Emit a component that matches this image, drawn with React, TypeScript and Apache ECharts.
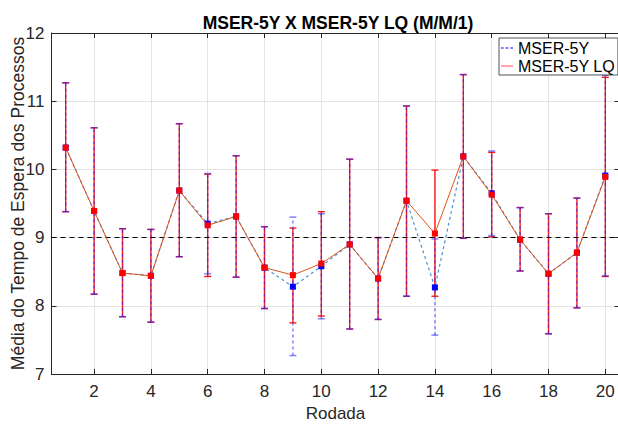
import React, { useEffect, useRef } from "react";
import * as echarts from "echarts";

const rounds = [1, 2, 3, 4, 5, 6, 7, 8, 9, 10, 11, 12, 13, 14, 15, 16, 17, 18, 19, 20];
const xTicks = [2, 4, 6, 8, 10, 12, 14, 16, 18, 20];

const mserMean = [10.32, 9.39, 8.48, 8.44, 9.69, 9.205, 9.31, 8.56, 8.28, 8.58, 8.9, 8.4, 9.54, 8.27, 10.19, 9.65, 8.97, 8.47, 8.78, 9.91];
const mserLow = [9.38, 8.17, 7.84, 7.76, 8.72, 8.47, 8.42, 7.96, 7.27, 7.81, 7.66, 7.8, 8.14, 7.57, 8.99, 9.03, 8.51, 7.59, 7.97, 8.44];
const mserHigh = [11.27, 10.61, 9.13, 9.12, 10.67, 9.94, 10.2, 9.16, 9.3, 9.35, 10.15, 9.0, 10.93, 8.98, 11.39, 10.27, 9.44, 9.35, 9.58, 11.38];

const lqMean = [10.32, 9.39, 8.48, 8.44, 9.69, 9.18, 9.31, 8.56, 8.45, 8.62, 8.9, 8.4, 9.54, 9.06, 10.19, 9.63, 8.97, 8.47, 8.78, 9.89];
const lqLow = [9.38, 8.17, 7.84, 7.76, 8.72, 8.43, 8.42, 7.96, 7.75, 7.85, 7.66, 7.8, 8.14, 8.14, 8.99, 9.01, 8.51, 7.59, 7.97, 8.43];
const lqHigh = [11.27, 10.61, 9.13, 9.12, 10.67, 9.93, 10.2, 9.16, 9.14, 9.38, 10.15, 9.0, 10.93, 9.99, 11.39, 10.25, 9.44, 9.35, 9.58, 11.35];

const referenceLevel = 9;

const FONT = '"Liberation Sans", Arial, Helvetica, sans-serif';

function makeBar(color: string, dash: number[] | null, width: number, opacity: number) {
  return (params: any, api: any) => {
    const x = api.value(0);
    const lo = api.coord([x, api.value(1)]);
    const hi = api.coord([x, api.value(2)]);
    const c = 3.5;
    const style = { stroke: color, lineWidth: width, lineDash: dash, opacity };
    const capStyle = { stroke: color, lineWidth: width, opacity };
    return {
      type: "group",
      children: [
        { type: "line", shape: { x1: lo[0], y1: lo[1], x2: hi[0], y2: hi[1] }, style },
        { type: "line", shape: { x1: lo[0] - c, y1: lo[1], x2: lo[0] + c, y2: lo[1] }, style: capStyle },
        { type: "line", shape: { x1: hi[0] - c, y1: hi[1], x2: hi[0] + c, y2: hi[1] }, style: capStyle },
      ],
    };
  };
}

export default function App() {
  const ref = useRef<HTMLDivElement>(null);
  useEffect(() => {
    if (!ref.current) return;
    const chart = echarts.init(ref.current, null, { renderer: "svg" });
    const axisText = { color: "#262626", fontSize: 17, fontFamily: FONT };
    const option: any = {
      animation: false,
      backgroundColor: "#fff",
      title: {
        text: "MSER-5Y X MSER-5Y LQ (M/M/1)",
        left: 333,
        top: 9,
        textAlign: "center",
        textStyle: { fontSize: 17.5, fontWeight: "bold", color: "#000", fontFamily: FONT },
      },
      grid: { left: 51.5, right: -1.5, top: 33, bottom: 52, containLabel: false, outerBoundsMode: "none" },
      legend: {
        left: 499,
        top: 38,
        orient: "vertical",
        z: 20,
        padding: [2, 3, 1, 2],
        itemGap: 2,
        itemWidth: 12,
        itemHeight: 2,
        backgroundColor: "#fff",
        borderColor: "#262626",
        borderWidth: 0.8,
        borderRadius: 0,
        textStyle: { fontSize: 16, color: "#000", fontFamily: FONT },
        data: [
          {
            name: "MSER-5Y",
            icon: "path://M0 0H3V1H0ZM5 0H8V1H5ZM10 0H13V1H10Z",
            itemStyle: { color: "#0000ff" },
          },
          {
            name: "MSER-5Y LQ",
            icon: "path://M0 0H13V1H0Z",
            itemStyle: { color: "#ff3b3b" },
          },
        ],
      },
      xAxis: [
        {
          type: "value",
          min: 0.5,
          max: 20.5,
          name: "Rodada",
          nameLocation: "middle",
          nameGap: 31,
          nameMoveOverlap: false,
          nameTextStyle: axisText,
          axisLine: { show: true, lineStyle: { color: "#262626", width: 1 } },
          axisTick: { show: true, inside: true, length: 5, customValues: xTicks, lineStyle: { color: "#262626" } },
          axisLabel: { customValues: xTicks, margin: 9, ...axisText },
          splitLine: { show: true, lineStyle: { color: "#e3e3e3", width: 1 } },
        },
        {
          type: "value",
          position: "top",
          min: 0.5,
          max: 20.5,
          axisLine: { show: true, lineStyle: { color: "#262626", width: 1 } },
          axisTick: { show: true, inside: true, length: 5, customValues: xTicks, lineStyle: { color: "#262626" } },
          axisLabel: { show: false },
          splitLine: { show: false },
        },
      ],
      yAxis: [
        {
          type: "value",
          min: 7,
          max: 12,
          interval: 1,
          name: "Média do Tempo de Espera dos Processos",
          nameLocation: "middle",
          nameGap: 25,
          nameMoveOverlap: false,
          nameTextStyle: { ...axisText, fontSize: 17.5 },
          axisLine: { show: true, lineStyle: { color: "#262626", width: 1 } },
          axisTick: { show: true, inside: true, length: 5, lineStyle: { color: "#262626" } },
          axisLabel: { margin: 7, ...axisText },
          splitLine: { show: true, lineStyle: { color: "#e3e3e3", width: 1 } },
        },
        {
          type: "value",
          position: "right",
          min: 7,
          max: 12,
          interval: 1,
          axisLine: { show: true, lineStyle: { color: "#262626", width: 1 } },
          axisTick: { show: true, inside: true, length: 5, lineStyle: { color: "#262626" } },
          axisLabel: { show: false },
          splitLine: { show: false },
        },
      ],
      series: [
        {
          type: "custom",
          name: "errLQ",
          silent: true,
          z: 2,
          renderItem: makeBar("#ff0000", null, 1.4, 0.9),
          encode: { x: 0, y: [1, 2] },
          data: rounds.map((r, i) => [r, lqLow[i], lqHigh[i]]),
        },
        {
          type: "custom",
          name: "errMSER",
          silent: true,
          z: 3,
          renderItem: makeBar("#2020ff", [3, 3], 1.5, 0.55),
          encode: { x: 0, y: [1, 2] },
          data: rounds.map((r, i) => [r, mserLow[i], mserHigh[i]]),
        },
        {
          type: "line",
          name: "MSER-5Y",
          z: 4,
          symbol: "rect",
          symbolSize: 6,
          itemStyle: { color: "#0000ff" },
          lineStyle: { color: "#4d8fd6", width: 1.2, type: [3, 3] },
          data: rounds.map((r, i) => [r, mserMean[i]]),
        },
        {
          type: "line",
          name: "MSER-5Y LQ",
          z: 5,
          symbol: "rect",
          symbolSize: 6,
          itemStyle: { color: "#ff0000" },
          lineStyle: { color: "#d95319", width: 1 },
          data: rounds.map((r, i) => [r, lqMean[i]]),
          markLine: {
            silent: true,
            symbol: ["none", "none"],
            label: { show: false },
            lineStyle: { color: "#000", type: [5, 4], width: 1 },
            data: [{ yAxis: referenceLevel }],
          },
        },
      ],
    };
    chart.setOption(option);
    return () => chart.dispose();
  }, []);
  return (
    <div
      ref={ref}
      style={{ position: "fixed", left: 0, top: 0, width: 618, height: 426, background: "#fff" }}
    />
  );
}
